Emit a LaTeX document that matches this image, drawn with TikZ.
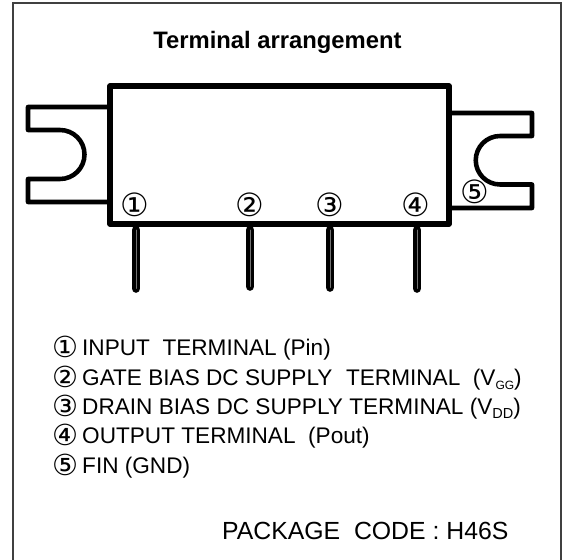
\documentclass[tikz,border=0pt]{standalone}
\usepackage{fontspec}
\setmainfont{Liberation Sans}
\newfontfamily\symfont{DejaVu Sans}
\tikzset{
	outline/.style={line width=1.8mm, line join=round, line cap=round},
	finline/.style={line width=1.6mm, line join=round},
	pinline/.style={line width=1.4mm, double=black!55, double distance=0.25mm, line cap=round},
	listlabel/.style={inner sep=0pt, anchor=base west, font=\fontsize{22.6}{26}\selectfont},
	pinnum/.style={inner sep=0pt, font=\symfont\fontsize{32}{32}\selectfont}
}
\def\num#1{\makebox[30pt][l]{\raisebox{-2.5pt}{\symfont\fontsize{29}{29}\selectfont #1}}}
\def\sub#1#2{\raisebox{-4pt}{\fontsize{#1}{#1}\selectfont #2}}
\begin{document}
\begin{tikzpicture}[x=1pt, y=-1pt]
	\useasboundingbox (0, 0) rectangle (566, 560);
	\draw[line width=0.9mm, color=black!75] (13, 565) -- (13, 3);
	\draw[line width=0.5mm, color=black!75] (12, 3) -- (561, 3) -- (561, 565);
	
	\node[inner sep=0pt, font=\bfseries\fontsize{23.8}{28}\selectfont] (title) at (277.5, 42) {Terminal arrangement};
	
	\draw[finline] (108, 107) -- (28, 107) -- (28, 130) -- (60, 130) arc (-90:90:24.5) -- (28, 179) -- (28, 202) -- (108, 202);
	\draw[finline] (450, 113) -- (532, 113) -- (532, 136) -- (500, 136) arc (270:90:24.25) -- (532, 184.5) -- (532, 208) -- (450, 208);
	
	\draw[outline] (110, 86) rectangle (449, 224);
	
	\draw[pinline] (136, 230) -- (136, 288.5);
	\draw[pinline] (250, 230) -- (250, 286.5);
	\draw[pinline] (330, 230) -- (330, 287.5);
	\draw[pinline] (417, 230) -- (417, 288.5);
	
	\node[pinnum] (p1) at (135, 205) {①};
	\node[pinnum] (p2) at (250, 205) {②};
	\node[pinnum] (p3) at (330, 205) {③};
	\node[pinnum] (p4) at (416, 205) {④};
	\node[pinnum] (p5) at (475, 192) {⑤};
	
	\node[listlabel] (l1) at (52, 355) {\num{①}INPUT\ \ TERMINAL (Pin)};
	\node[listlabel] (l2) at (52, 385) {\num{②}GATE BIAS DC SUPPLY\ \ \hspace{1pt}TERMINAL\ \ (V\sub{12}{GG})};
	\node[listlabel] (l3) at (52, 414) {\num{③}DRAIN BIAS DC SUPPLY TERMINAL (V\sub{14.5}{DD})};
	\node[listlabel] (l4) at (52, 443) {\num{④}OUTPUT TERMINAL\ \ (Pout)};
	\node[listlabel] (l5) at (52, 473) {\num{⑤}FIN (GND)};
	
	\node[listlabel, font=\fontsize{24.8}{28}\selectfont] (code) at (222, 539) {PACKAGE\ \ CODE : H46S};
\end{tikzpicture}
\end{document}
